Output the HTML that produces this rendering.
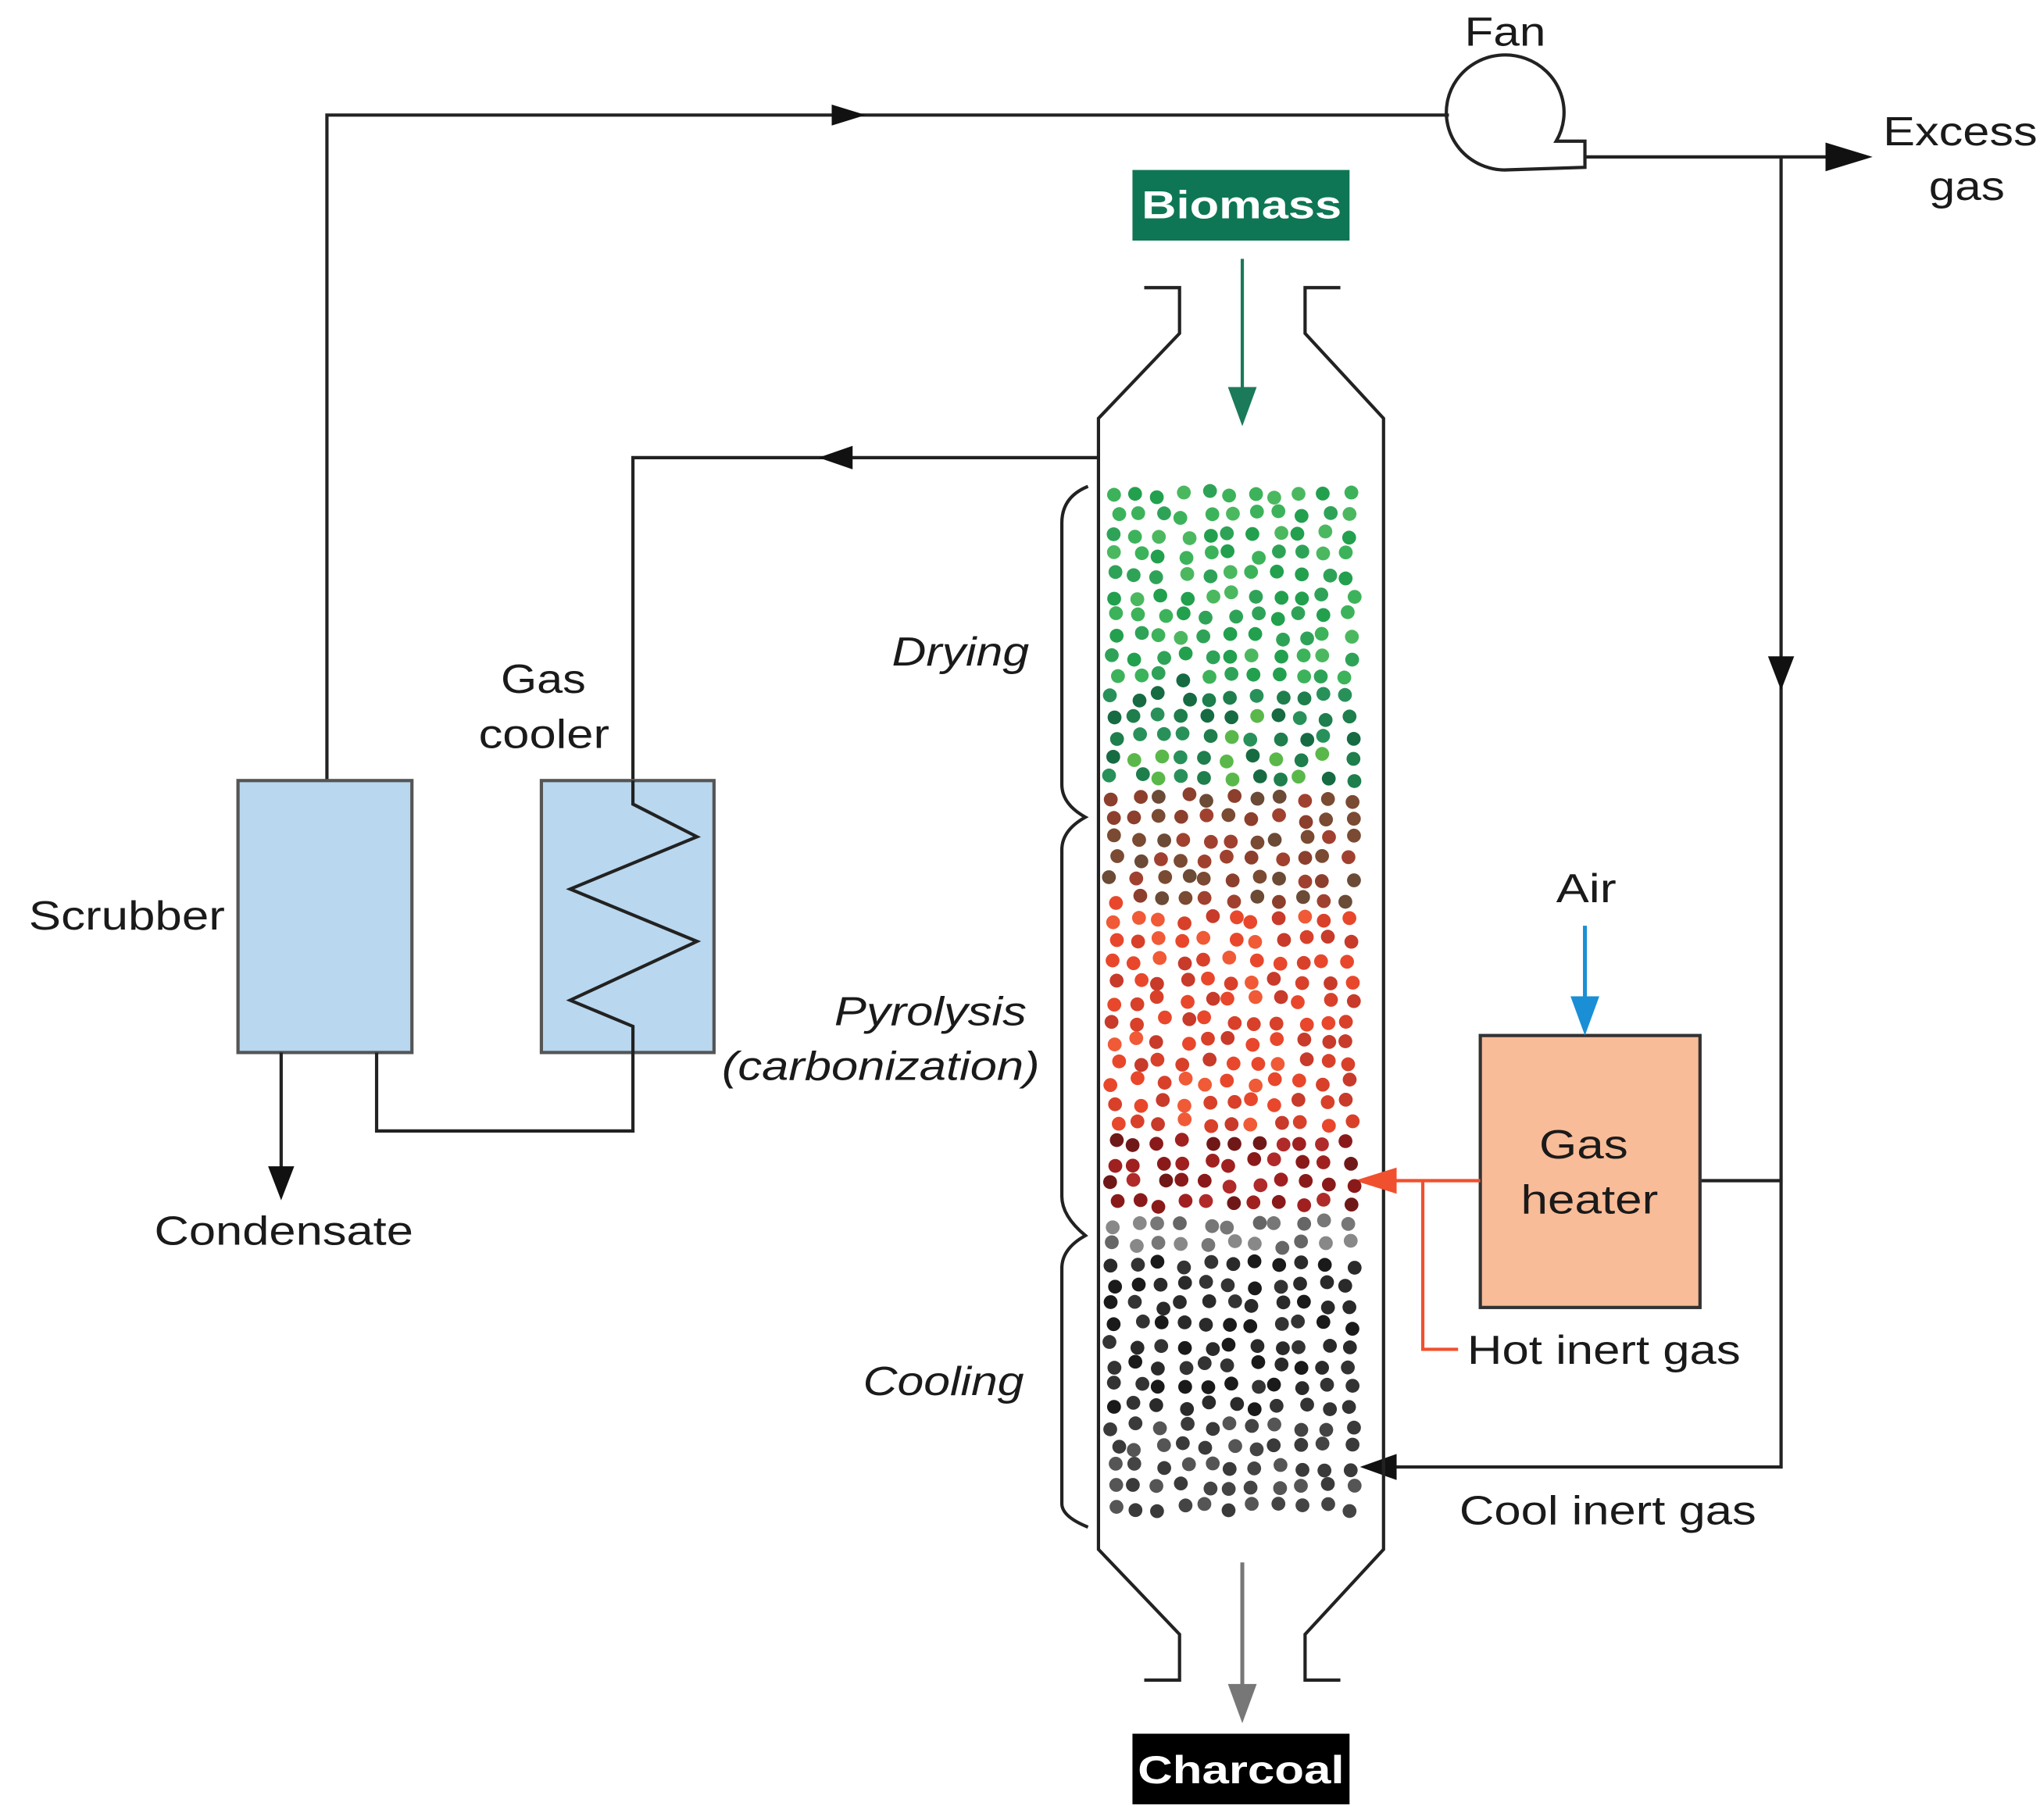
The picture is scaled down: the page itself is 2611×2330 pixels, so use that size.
<!DOCTYPE html>
<html><head><meta charset="utf-8"><style>
html,body{margin:0;padding:0;background:#fff;}
svg{display:block;}
text{font-family:"Liberation Sans",sans-serif;fill:#1a1a1a;}
</style></head><body>
<svg id="s" width="2611" height="2330" viewBox="0 0 1560 1392" preserveAspectRatio="none" xmlns="http://www.w3.org/2000/svg">
<g stroke="#222" stroke-width="2.5" fill="none">
<polyline points="250,597 250,88 1108,88"/>
<path d="M636,80 L662,88 L636,96z" fill="#111" stroke="none"/>
<path d="M1150,130 A45,44 0 1,1 1190,108 L1212,108 L1212,128 L1150,130"/>
<polyline points="1212,120 1400,120"/>
<path d="M1396,109 L1432,120 L1396,131z" fill="#111" stroke="none"/>
<polyline points="1362,120 1362,1122 1060,1122"/>
<path d="M1352,502 L1362,528 L1372,502z" fill="#111" stroke="none"/>
<path d="M1068,1112 L1040,1122 L1068,1132z" fill="#111" stroke="none"/>
<polyline points="1300,903 1362,903"/>
<polyline points="875,220 902,220 902,255 840,320 840,1185 902,1250 902,1285 875,1285"/>
<polyline points="1025,220 998,220 998,255 1058,320 1058,1185 998,1250 998,1285 1025,1285"/>
<polyline points="840,350 484,350 484,597"/>
<path d="M652,341 L626,350 L652,359z" fill="#111" stroke="none"/>
<rect x="182" y="597" width="133" height="208" fill="#b9d7ee" stroke="#555"/>
<rect x="414" y="597" width="132" height="208" fill="#b9d7ee" stroke="#555"/>
<polyline points="484,597 484,615 533,640 436,680 533,720 436,765 484,785 484,865 288,865 288,805"/>
<line x1="215" y1="805" x2="215" y2="895"/>
<path d="M205,892 L215,918 L225,892z" fill="#111" stroke="none"/>
<rect x="1132" y="792" width="168" height="208" fill="#f9bc98" stroke="#333"/>
<path d="M832,372 Q812,380 812,400 L812,600 Q812,615 830,625 Q812,635 812,650 L812,915 Q812,930 830,945 Q812,955 812,970 L812,1150 Q812,1160 832,1168"/>
</g>
<line x1="950" y1="198" x2="950" y2="300" stroke="#1a7a5a" stroke-width="2.5"/>
<path d="M939,296 L950,326 L961,296z" fill="#1a7a5a"/>
<line x1="950" y1="1195" x2="950" y2="1290" stroke="#777" stroke-width="3"/>
<path d="M939,1288 L950,1318 L961,1288z" fill="#777"/>
<line x1="1212" y1="708" x2="1212" y2="765" stroke="#1a8fd6" stroke-width="3"/>
<path d="M1201,762 L1212,792 L1223,762z" fill="#1a8fd6"/>
<g stroke="#f0502e" stroke-width="2.5" fill="none">
<polyline points="1132,903 1065,903"/>
<polyline points="1088,903 1088,1032 1115,1032"/>
</g>
<path d="M1068,893 L1036,903 L1068,913z" fill="#f0502e"/>
<rect x="866" y="130" width="166" height="54" fill="#0e7654"/>
<text x="873" y="167" font-size="30" font-weight="bold" textLength="153" lengthAdjust="spacingAndGlyphs" style="fill:#fff">Biomass</text>
<rect x="866" y="1326" width="166" height="54" fill="#000"/>
<text x="870" y="1364" font-size="30" font-weight="bold" textLength="158" lengthAdjust="spacingAndGlyphs" style="fill:#fff">Charcoal</text>
<g id="dots"></g>
<g font-size="31" lengthAdjust="spacingAndGlyphs">
<text x="1120" y="35" textLength="62" lengthAdjust="spacingAndGlyphs">Fan</text>
<text x="1440" y="111" textLength="118" lengthAdjust="spacingAndGlyphs">Excess</text>
<text x="1475" y="153" textLength="58" lengthAdjust="spacingAndGlyphs">gas</text>
<text x="383" y="530" textLength="65" lengthAdjust="spacingAndGlyphs">Gas</text>
<text x="366" y="572" textLength="100" lengthAdjust="spacingAndGlyphs">cooler</text>
<text x="22" y="711" textLength="150" lengthAdjust="spacingAndGlyphs">Scrubber</text>
<text x="118" y="952" textLength="198" lengthAdjust="spacingAndGlyphs">Condensate</text>
<text x="1190" y="690" textLength="46" lengthAdjust="spacingAndGlyphs">Air</text>
<text x="1177" y="886" textLength="68" lengthAdjust="spacingAndGlyphs">Gas</text>
<text x="1163" y="928" textLength="105" lengthAdjust="spacingAndGlyphs">heater</text>
<text x="1122" y="1043" textLength="209" lengthAdjust="spacingAndGlyphs">Hot inert gas</text>
<text x="1116" y="1166" textLength="227" lengthAdjust="spacingAndGlyphs">Cool inert gas</text>
<text x="682" y="509" font-style="italic" textLength="105" lengthAdjust="spacingAndGlyphs">Drying</text>
<text x="638" y="784" font-style="italic" textLength="147" lengthAdjust="spacingAndGlyphs">Pyrolysis</text>
<text x="552" y="826" font-style="italic" textLength="243" lengthAdjust="spacingAndGlyphs">(carbonization)</text>
<text x="660" y="1067" font-style="italic" textLength="123" lengthAdjust="spacingAndGlyphs">Cooling</text>
</g>
</svg>
<script>
(function(){
var g=document.getElementById('dots'),s=7,ns='http://www.w3.org/2000/svg';
function r(){s=(s*9301+49297)%233280;return s/233280;}
function col(y){
 if(y<520)return ['#3cb35a','#2ea357','#22a04e','#4bb860'][Math.floor(r()*4)];
 if(y<600)return ['#1e7e4c','#28915a','#5ab84a','#176b42'][Math.floor(r()*4)];
 if(y<690)return ['#7a4a32','#8c3f2c','#a0412f','#6b4a36'][Math.floor(r()*4)];
 if(y<870)return ['#e8472c','#f05a36','#d8402a','#c83a2a'][Math.floor(r()*4)];
 if(y<925)return ['#8a1a1a','#a02020','#701818','#b02a2a'][Math.floor(r()*4)];
 if(y<955)return ['#777','#888','#666'][Math.floor(r()*3)];
 if(y<1080)return ['#1a1a1a','#2a2a2a','#333'][Math.floor(r()*3)];
 return ['#444','#555','#3a3a3a'][Math.floor(r()*3)];
}
for(var y=378;y<1162;y+=15.5){for(var x=852;x<1050;x+=18){
 var cx=x+(r()-0.5)*8,cy=y+(r()-0.5)*6;
 var c=document.createElementNS(ns,'circle');
 c.setAttribute('cx',cx.toFixed(1));c.setAttribute('cy',cy.toFixed(1));c.setAttribute('r',5.3);
 c.setAttribute('fill',col(cy));g.appendChild(c);}}
})();
</script>
</body></html>
